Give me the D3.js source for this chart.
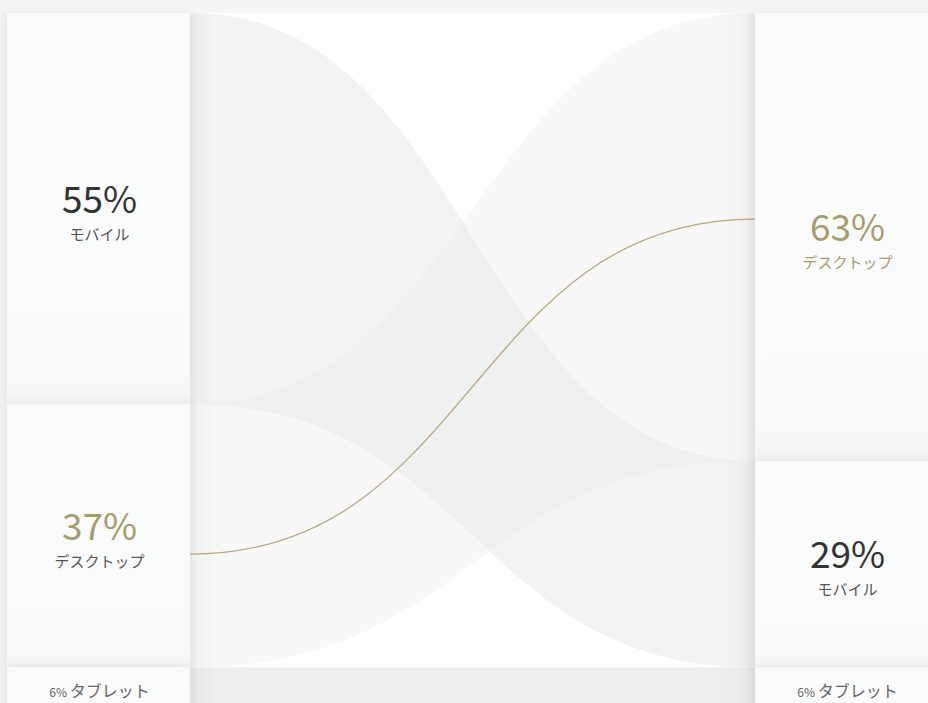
<!DOCTYPE html>
<html>
<head>
<meta charset="utf-8">
<script src="https://cdn.jsdelivr.net/npm/d3@7"></script>
<style>
	html, body { margin: 0; padding: 0; background: #f2f2f2; overflow: hidden; }
	svg { display: block; }
	text { font-family: "Noto Sans CJK JP", "Noto Sans", sans-serif; }
</style>
</head>
<body>
<div id="chart"></div>
<script>
// data
var leftCategories = ["モバイル", "デスクトップ", "タブレット"];
var leftShares = [55, 37, 6];
var rightCategories = ["デスクトップ", "モバイル", "タブレット"];
var rightShares = [63, 29, 6];
var highlightCategory = "デスクトップ";

function DeviceShift (targetDomElement) {
	var chart = {};
	var width = 928;
	var height = 703;
	var panelWidth = 183;
	var leftX = 7;
	var rightX = 755;
	var gold = "#a99c6b";
	var svg, defs, y;

	function constructor (target) {
		svg = d3.select(target)
			.append("svg")
			.attr("width", width)
			.attr("height", height);
		defs = svg.append("defs");

		y = d3.scaleLinear()
			.domain([0, d3.sum(leftShares)])
			.range([13, 710]);

		return chart;
	}

	function stack (cats, shares) {
		var ends = d3.cumsum(shares);
		return cats.map(function (c, i) {
			return { name: c, value: shares[i], y0: y(ends[i] - shares[i]), y1: y(ends[i]) };
		});
	}

	function ribbon (x0, x1, a0, a1, b0, b1) {
		var xm = (x0 + x1) / 2;
		var p = d3.path();
		p.moveTo(x0, a0);
		p.bezierCurveTo(xm, a0, xm, b0, x1, b0);
		p.lineTo(x1, b1);
		p.bezierCurveTo(xm, b1, xm, a1, x0, a1);
		p.closePath();
		return p.toString();
	}

	function gradient (id, x1, y1, x2, y2, stops) {
		var g = defs.append("linearGradient")
			.attr("id", id)
			.attr("x1", x1).attr("y1", y1).attr("x2", x2).attr("y2", y2);
		stops.forEach(function (s) {
			g.append("stop")
				.attr("offset", s[0])
				.attr("stop-color", s[1])
				.attr("stop-opacity", s[2]);
		});
	}

	chart.render = function () {
		var left = stack(leftCategories, leftShares);
		var right = stack(rightCategories, rightShares);
		var x0 = leftX + panelWidth;
		var x1 = rightX;

		gradient("panelShade", 0, 0, 0, 1, [[0, "#fafbfb", 1], [0.92, "#f9fafa", 1], [1, "#f2f3f3", 1]]);
		gradient("shadowL", 0, 0, 1, 0, [[0, "#000", 0.035], [1, "#000", 0]]);
		gradient("shadowR", 0, 0, 1, 0, [[0, "#000", 0], [0.6, "#000", 0.015], [1, "#000", 0.06]]);
		gradient("topFade", 0, 0, 0, 1, [[0, "#f4f4f4", 1], [1, "#f7f7f7", 1]]);

		var blur = defs.append("filter").attr("id", "soft")
			.attr("x", "-10%").attr("y", "-10%").attr("width", "120%").attr("height", "120%");
		blur.append("feDropShadow")
			.attr("dx", 0).attr("dy", 0)
			.attr("stdDeviation", 4)
			.attr("flood-color", "#000")
			.attr("flood-opacity", 0.07);

		svg.append("rect")
			.attr("x", 0).attr("y", 0)
			.attr("width", width).attr("height", y.range()[0])
			.attr("fill", "url(#topFade)");

		// middle area
		svg.append("rect")
			.attr("x", x0).attr("y", y.range()[0])
			.attr("width", x1 - x0).attr("height", height - y.range()[0])
			.attr("fill", "#ffffff");

		// flows, desktop under mobile
		var flows = leftCategories.filter(function (c) { return c !== "タブレット"; })
			.map(function (c) {
				var a = left.find(function (d) { return d.name === c; });
				var b = right.find(function (d) { return d.name === c; });
				return { name: c, a: a, b: b };
			})
			.sort(function (p, q) { return p.name === highlightCategory ? -1 : 1; });

		svg.selectAll(".flow")
			.data(flows)
			.enter()
			.append("path")
			.classed("flow", true)
			.attr("d", function (d) { return ribbon(x0, x1, d.a.y0, d.a.y1, d.b.y0, d.b.y1); })
			.attr("fill", function (d) { return d.name === highlightCategory ? "#f8f8f8" : "#e8e9e9"; })
			.attr("fill-opacity", function (d) { return d.name === highlightCategory ? 1 : 0.55; });

		var tabL = left.find(function (d) { return d.name === "タブレット"; });
		svg.append("rect")
			.attr("x", x0).attr("y", tabL.y0)
			.attr("width", x1 - x0).attr("height", tabL.y1 - tabL.y0)
			.attr("fill", "#eeeeee");
		svg.append("line")
			.attr("x1", x0).attr("x2", x1)
			.attr("y1", tabL.y0).attr("y2", tabL.y0)
			.attr("stroke", "#f6f6f6").attr("stroke-width", 1);

		// shadows beside the columns
		svg.append("rect")
			.attr("x", x0).attr("y", y.range()[0])
			.attr("width", 26).attr("height", height)
			.attr("fill", "url(#shadowL)");
		svg.append("rect")
			.attr("x", x1 - 40).attr("y", y.range()[0])
			.attr("width", 40).attr("height", height)
			.attr("fill", "url(#shadowR)");

		// highlight line
		var a = left.find(function (d) { return d.name === highlightCategory; });
		var b = right.find(function (d) { return d.name === highlightCategory; });
		var link = d3.linkHorizontal();
		svg.append("path")
			.attr("d", link({
				source: [x0, a.y0 + (a.y1 - a.y0) * 0.57],
				target: [x1, b.y0 + (b.y1 - b.y0) * 0.46]
			}))
			.attr("fill", "none")
			.attr("stroke", "#b6a87a")
			.attr("stroke-width", 1.3);

		drawColumn(left, leftX, false);
		drawColumn(right, rightX, true);
	};

	function drawColumn (cells, x, isRight) {
		var g = svg.append("g");
		var cx = x + panelWidth / 2 + 1;

		g.selectAll(".panel")
			.data(cells)
			.enter()
			.append("rect")
			.classed("panel", true)
			.attr("x", x)
			.attr("y", function (d) { return d.y0; })
			.attr("width", panelWidth)
			.attr("height", function (d) { return d.y1 - d.y0; })
			.attr("fill", "url(#panelShade)")
			.attr("filter", "url(#soft)");

		cells.forEach(function (d) {
			var hl = d.name === highlightCategory;
			var mid = (d.y0 + d.y1) / 2;
			if (d.y1 - d.y0 < 60) {
				var t = g.append("text")
					.attr("x", cx)
					.attr("y", d.y0 + 30)
					.attr("text-anchor", "middle")
					.attr("fill", "#666");
				t.append("tspan").attr("font-size", 12).text(d.value + "% ");
				t.append("tspan").attr("font-size", 16).text(d.name);
				return;
			}
			g.append("text")
				.attr("x", cx)
				.attr("y", mid + 4)
				.attr("text-anchor", "middle")
				.attr("font-size", 37)
				.attr("font-weight", 400)
				.attr("fill", hl ? gold : "#333")
				.text(d.value + "%");
			g.append("text")
				.attr("x", cx)
				.attr("y", mid + 31)
				.attr("text-anchor", "middle")
				.attr("font-size", 15)
				.attr("fill", hl && isRight ? gold : "#555")
				.text(d.name);
		});
	}

	return constructor(targetDomElement);
}

var vis = DeviceShift(document.getElementById("chart"));
vis.render();
</script>
</body>
</html>
